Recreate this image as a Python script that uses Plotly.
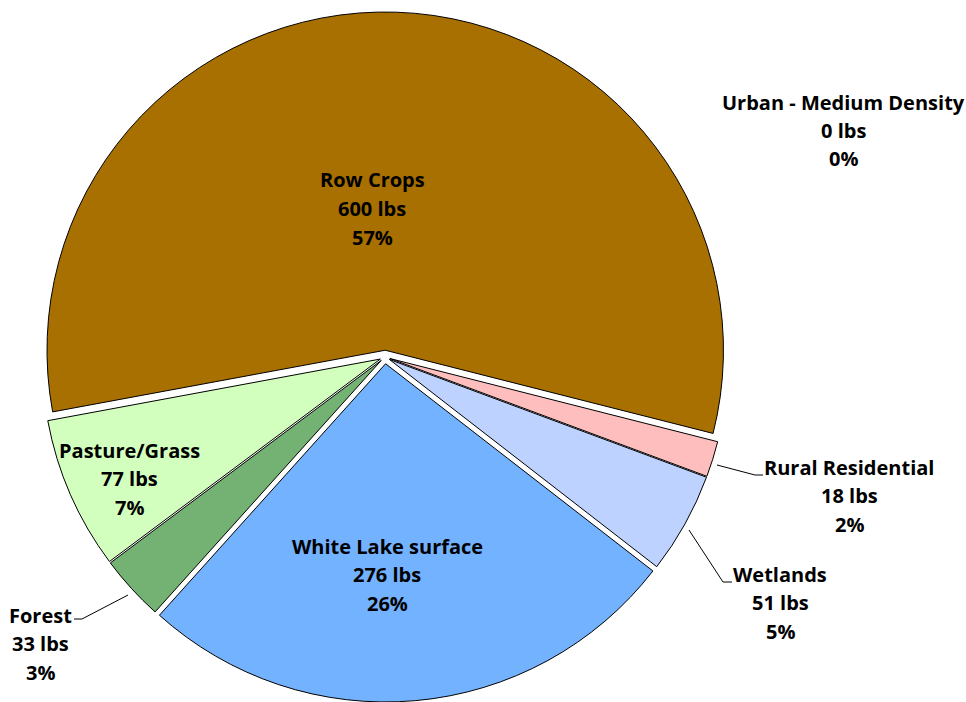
import plotly.graph_objects as go

# Phosphorus load by land use (lbs)
categories = ["Row Crops", "Urban - Medium Density", "Rural Residential",
              "Wetlands", "White Lake surface", "Forest", "Pasture/Grass"]
loads_lbs = [600, 0, 18, 51, 276, 33, 77]
slice_colors = ["#A87000", "#E60000", "#FFBEBE", "#BED2FF",
                "#73B2FF", "#73B273", "#D3FFBE"]
slice_pull = [0.02, 0.0, 0.015, 0.015, 0.02, 0.015, 0.015]
outline_width = [1, 0, 1, 1, 1, 1, 1]

W, H = 966, 702
total = sum(loads_lbs)


def px(x):
    return x / W


def py(y):
    return 1 - y / H


fig = go.Figure(go.Pie(
    labels=categories,
    values=loads_lbs,
    sort=False,
    direction="clockwise",
    rotation=259.5,
    pull=slice_pull,
    marker=dict(colors=slice_colors,
                line=dict(color="#000000", width=outline_width)),
    textinfo="none",
    hoverinfo="label+value+percent",
    showlegend=False,
    domain=dict(x=[px(40), px(730)], y=[0, py(12)]),
))

# label anchor (centre of first line) for each category, in pixels
label_pos = {
    "Row Crops": (372, 180),
    "Urban - Medium Density": (843, 102),
    "Rural Residential": (849, 467),
    "Wetlands": (780, 574),
    "White Lake surface": (387, 546),
    "Forest": (40, 615),
    "Pasture/Grass": (129, 450),
}

font = dict(family="Open Sans", size=20, color="#000000")
line_gap = 28.5
annotations = []
for name, val in zip(categories, loads_lbs):
    cx, cy = label_pos[name]
    lines = [name, f"{val} lbs", f"{round(100 * val / total)}%"]
    for i, t in enumerate(lines):
        annotations.append(dict(
            x=px(cx), y=py(cy + i * line_gap), xref="paper", yref="paper",
            text=f"<b>{t}</b>", showarrow=False, font=font,
            xanchor="center", yanchor="middle",
        ))

# leader lines for the labels placed outside the pie
leaders = [
    [(74, 619), (82, 619), (128, 595)],          # Forest
    [(717, 465), (755, 475), (763, 475)],        # Rural Residential
    [(689, 530), (723, 582), (732, 582)],        # Wetlands
]
shapes = []
for pts in leaders:
    path = "M " + " L ".join(f"{px(x):.5f},{py(y):.5f}" for x, y in pts)
    shapes.append(dict(type="path", path=path, xref="paper", yref="paper",
                       line=dict(color="#000000", width=1)))

fig.update_layout(
    width=W, height=H,
    margin=dict(l=0, r=0, t=0, b=0),
    paper_bgcolor="#FFFFFF",
    plot_bgcolor="#FFFFFF",
    annotations=annotations,
    shapes=shapes,
)

fig.write_html("out.html")
